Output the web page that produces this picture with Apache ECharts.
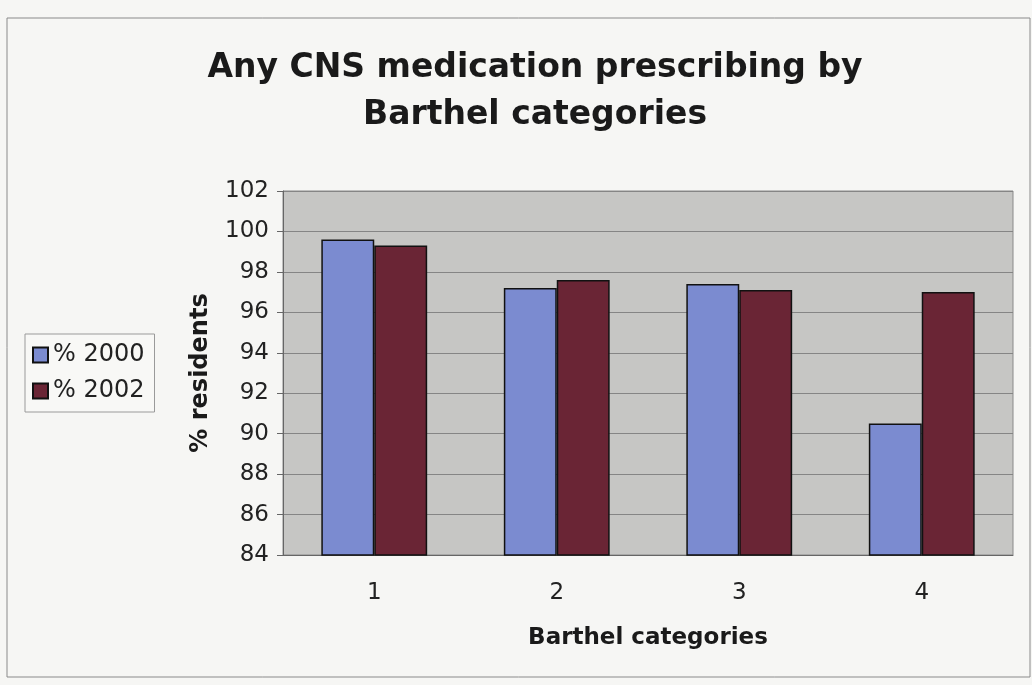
<!DOCTYPE html>
<html>
<head>
<meta charset="utf-8">
<script src="https://cdn.jsdelivr.net/npm/echarts@6/dist/echarts.min.js"></script>
<style>
  html, body { margin: 0; padding: 0; background: #f6f6f4; }
  #chart { width: 1032px; height: 685px; }
</style>
</head>
<body>
<div id="chart"></div>
<script>
const categories = ['1', '2', '3', '4'];
const pct2000 = [99.6, 97.2, 97.4, 90.5];
const pct2002 = [99.3, 97.6, 97.1, 97.0];

const font = 'DejaVu Sans, Verdana, sans-serif';

let chart = echarts.init(document.getElementById('chart'));
let option = {
    backgroundColor: '#f6f6f4',
    animation: false,
    textStyle: { fontFamily: font, color: '#222' },
    title: {
        text: 'Any CNS medication prescribing by\nBarthel categories',
        left: 530,
        top: 40,
        textAlign: 'center',
        textStyle: { fontFamily: font, fontSize: 33, fontWeight: 'bold', color: '#1a1a1a', lineHeight: 47 }
    },
    legend: {
        orient: 'vertical',
        left: 25,
        top: 334,
        padding: [9, 10, 9, 7],
        itemWidth: 15,
        itemHeight: 15,
        itemGap: 12,
        icon: 'rect',
        borderColor: '#9a9a9a',
        borderWidth: 1,
        backgroundColor: '#f8f8f6',
        textStyle: { fontFamily: font, fontSize: 24, color: '#222' },
        data: ['% 2000', '% 2002']
    },
    graphic: [{
        type: 'rect',
        shape: { x: 7, y: 18, width: 1023, height: 659 },
        style: { fill: 'none', stroke: '#8a8a8a', lineWidth: 1 },
        silent: true
    }],
    grid: {
        left: 283,
        right: 19,
        top: 191,
        bottom: 130,
        show: true,
        backgroundColor: '#c6c6c4',
        borderColor: '#8a8a8a',
        borderWidth: 1
    },
    xAxis: {
        type: 'category',
        data: categories,
        name: 'Barthel categories',
        nameLocation: 'middle',
        nameGap: 72,
        nameTextStyle: { fontFamily: font, fontSize: 23, fontWeight: 'bold', color: '#1a1a1a' },
        axisLine: { lineStyle: { color: '#666', width: 1 } },
        axisTick: { length: 6, lineStyle: { color: '#666' } },
        axisLabel: { fontSize: 23, color: '#222', margin: 27 }
    },
    yAxis: {
        type: 'value',
        min: 84,
        max: 102,
        interval: 2,
        name: '% residents',
        nameLocation: 'middle',
        nameGap: 70,
        nameTextStyle: { fontFamily: font, fontSize: 24, fontWeight: 'bold', color: '#1a1a1a' },
        axisLine: { show: true, lineStyle: { color: '#666', width: 1 } },
        axisTick: { show: true, length: 6, lineStyle: { color: '#666' } },
        axisLabel: { fontSize: 23, color: '#222', margin: 14 },
        splitLine: { lineStyle: { color: '#858585', width: 1 } }
    },
    series: [
        {
            name: '% 2000',
            type: 'bar',
            data: pct2000,
            barGap: '0%',
            barCategoryGap: '42%',
            itemStyle: { color: '#7b8bd0', borderColor: '#111', borderWidth: 1.5 }
        },
        {
            name: '% 2002',
            type: 'bar',
            data: pct2002,
            itemStyle: { color: '#6a2535', borderColor: '#111', borderWidth: 1.5 }
        }
    ]
};

option && chart.setOption(option);
</script>
</body>
</html>
